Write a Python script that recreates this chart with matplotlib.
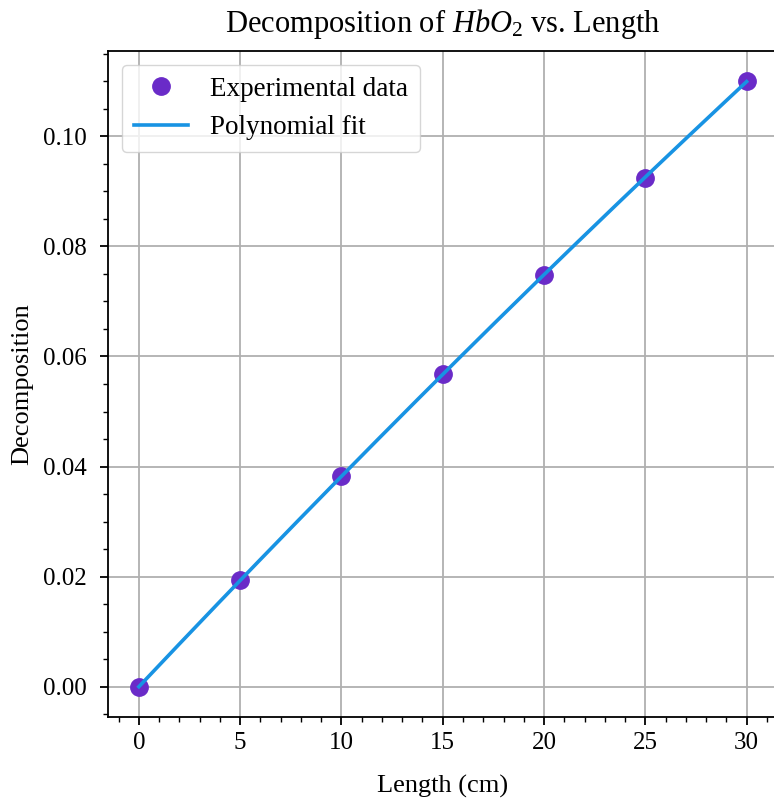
import numpy as np
import matplotlib
matplotlib.use("Agg")
import matplotlib.pyplot as plt
from matplotlib.ticker import MultipleLocator

length_cm = [0, 5, 10, 15, 20, 25, 30]
decomposition = [0.0, 0.0193, 0.0382, 0.0569, 0.0748, 0.0925, 0.110]

plt.rcParams['font.family'] = ['Liberation Serif', 'DejaVu Serif']
plt.rcParams['mathtext.fontset'] = 'custom'
plt.rcParams['mathtext.it'] = 'Liberation Serif:italic'
plt.rcParams['mathtext.rm'] = 'Liberation Serif'

W, H = 774, 808
fig = plt.figure(figsize=(W / 100, H / 100), dpi=100)
left, right, top, bottom = 108.5, 777, 51, 717
ax = fig.add_axes([left / W, 1 - bottom / H, (right - left) / W, (bottom - top) / H])

x = np.array(length_cm, dtype=float)
y = np.array(decomposition)
coef = np.polyfit(x, y, 2)
xf = np.linspace(x.min(), x.max(), 200)
yf = np.polyval(coef, xf)

ax.plot(x, y, 'o', color='#6A2BC8', markersize=12.5, label='Experimental data', zorder=3)
ax.plot(xf, yf, '-', color='#1893E3', linewidth=2.6, label='Polynomial fit', zorder=4)

ax.set_xlim(-1.5, 31.5)
ax.set_ylim(-0.0055, 0.1155)
ax.xaxis.set_major_locator(MultipleLocator(5))
ax.xaxis.set_minor_locator(MultipleLocator(1))
ax.yaxis.set_major_locator(MultipleLocator(0.02))
ax.yaxis.set_minor_locator(MultipleLocator(0.005))
ax.yaxis.set_major_formatter(matplotlib.ticker.FormatStrFormatter('%.2f'))
ax.grid(True, which='major', color='#b0b0b0', linewidth=1.3)
ax.set_axisbelow(True)
ax.tick_params(which='major', length=6, width=1.3, labelsize=18)
ax.tick_params(axis='x', which='major', pad=5)
ax.tick_params(axis='y', which='major', pad=10)
ax.tick_params(which='minor', length=3.5, width=1.0)
for s in ax.spines.values():
    s.set_linewidth(1.3)

ax.set_xlabel('Length (cm)', fontsize=19, labelpad=15)
ax.set_ylabel('Decomposition', fontsize=19, labelpad=7)
ax.set_title(r'Decomposition of $HbO_2$ vs. Length', fontsize=22, pad=14)
leg = ax.legend(loc='upper left', fontsize=19.5, framealpha=0.8, borderpad=0.45,
                labelspacing=0.5, handlelength=2.0, borderaxespad=0.5)

fig.savefig('out.png', dpi=100)
